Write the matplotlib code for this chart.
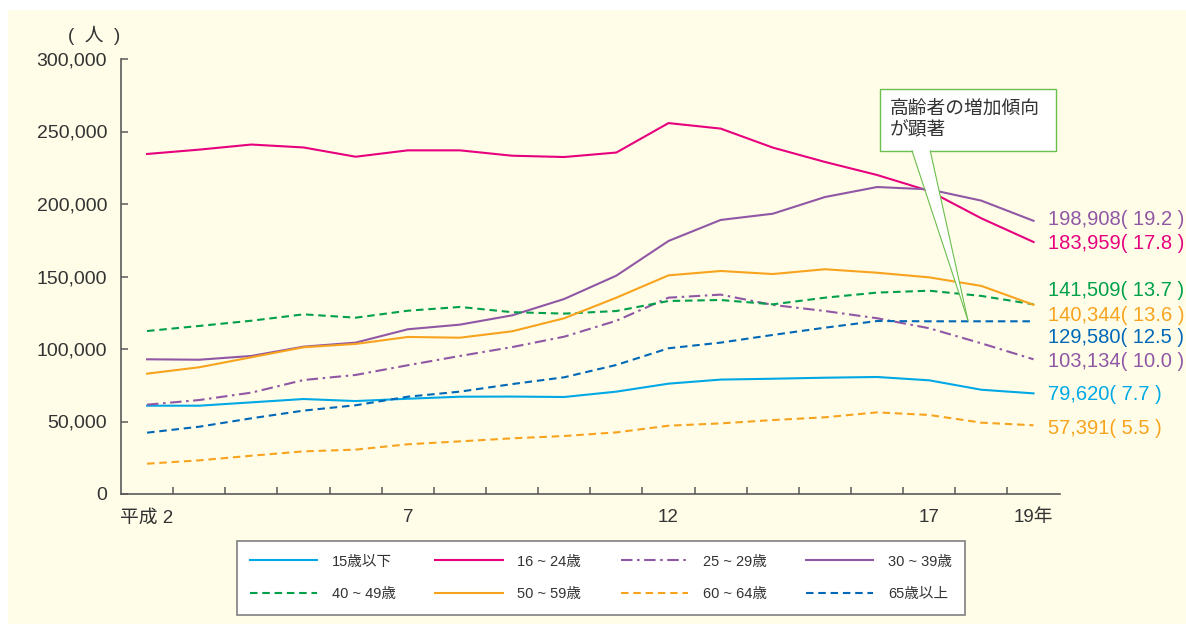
import matplotlib
matplotlib.use("Agg")

import matplotlib.pyplot as plt
from matplotlib.patches import Rectangle, Polygon

# ── data ────────────────────────────────────────────────────────────────────
years = ["平成 2", "3", "4", "5", "6", "7", "8", "9", "10", "11",
         "12", "13", "14", "15", "16", "17", "18", "19年"]
tick_label_idx = [0, 5, 10, 15, 17]
tick_labels = ["平成 2", "7", "12", "17", "19年"]

age_u15 = [60900, 60900, 63200, 65500, 64100, 65700, 67100, 67200, 66900,
           70600, 76100, 78900, 79500, 80200, 80700, 78400, 71900, 69400]
age_16_24 = [234500, 237500, 241000, 239000, 232600, 237000, 237000, 233300, 232400,
             235500, 255800, 252000, 238900, 229000, 220000, 209000, 190100, 173800]
age_25_29 = [61600, 64800, 69900, 78600, 82100, 88800, 95200, 101300, 108500,
             119500, 135400, 137500, 130400, 126200, 121200, 114300, 103900, 92900]
age_30_39 = [92900, 92600, 95200, 101600, 104400, 113600, 116800, 123200, 134500,
             150600, 174500, 189000, 193300, 204800, 211700, 210100, 202300, 188400]
age_40_49 = [112400, 115900, 119500, 123900, 121600, 126400, 129000, 125400, 124400,
             126200, 133100, 133800, 130800, 135400, 138900, 140200, 136600, 130800]
age_50_59 = [83000, 87400, 94300, 101200, 103500, 108300, 107800, 112200, 121200,
             135400, 150800, 153800, 151700, 155000, 152600, 149400, 143500, 130500]
age_60_64 = [20900, 23200, 26400, 29400, 30600, 34300, 36300, 38400, 40000,
             42500, 47100, 48700, 51000, 52900, 56300, 54500, 49200, 47400]
age_65 = [42300, 46400, 52200, 57500, 61200, 67100, 70600, 75800, 80500,
          89000, 100500, 104400, 109700, 114700, 119300, 119100, 119100, 119100]

end_labels = ["198,908( 19.2 )", "183,959( 17.8 )", "141,509( 13.7 )", "140,344( 13.6 )",
              "129,580( 12.5 )", "103,134( 10.0 )", "79,620( 7.7 )", "57,391( 5.5 )"]
end_label_y = [189000, 172800, 140000, 123400, 107600, 91700, 68300, 45500]

# ── style ───────────────────────────────────────────────────────────────────
plt.rcParams["font.family"] = ["Liberation Sans", "Noto Sans CJK JP", "DejaVu Sans"]

CREAM = "#fffde8"
TXT = "#333333"
C_CYAN = "#00a8e6"
C_PINK = "#e6007e"
C_PURPLE = "#9057a5"
C_GREEN = "#00a04a"
C_ORANGE = "#f8a31e"
C_BLUE = "#0068b7"

W, H = 1186, 624
fig = plt.figure(figsize=(W / 100, H / 100), dpi=100, facecolor="white")
fig.patches.append(Rectangle((8 / W, 0), 1 - 8 / W, 1 - 10 / H, transform=fig.transFigure,
                             facecolor=CREAM, edgecolor="none", zorder=-10))

ax = fig.add_axes([121 / W, 1 - 494 / H, (1059.6 - 121) / W, 435 / H])
ax.set_facecolor("none")

x = list(range(len(years)))
lw = 1.5
dash = (0, (3.6, 2.3))
dashdot = (0, (5.5, 2.2, 1.2, 2.2))

series = [
    (age_u15, "15歳以下", C_CYAN, "-"),
    (age_16_24, "16 ~ 24歳", C_PINK, "-"),
    (age_25_29, "25 ~ 29歳", C_PURPLE, dashdot),
    (age_30_39, "30 ~ 39歳", C_PURPLE, "-"),
    (age_40_49, "40 ~ 49歳", C_GREEN, dash),
    (age_50_59, "50 ~ 59歳", C_ORANGE, "-"),
    (age_60_64, "60 ~ 64歳", C_ORANGE, dash),
    (age_65, "65歳以上", C_BLUE, dash),
]
handles = []
for vals, lab, col, ls in series:
    ln, = ax.plot(x, vals, color=col, lw=lw, linestyle=ls, label=lab, zorder=3)
    handles.append(ln)

ax.set_xlim(-0.5, 17.5)
ax.set_ylim(0, 300000)

for s in ["top", "right"]:
    ax.spines[s].set_visible(False)
for s in ["left", "bottom"]:
    ax.spines[s].set_color("#5a5a5a")
    ax.spines[s].set_linewidth(1.2)

yticks = [0, 50000, 100000, 150000, 200000, 250000, 300000]
ax.set_yticks(yticks, [f"{v:,}" for v in yticks])
ax.tick_params(axis="y", direction="in", length=5, width=1.1, color="#5a5a5a",
               labelsize=14, labelcolor=TXT, pad=10)

ax.set_xticks([i + 0.5 for i in range(17)])
ax.set_xticklabels([])
ax.tick_params(axis="x", which="major", direction="in", length=5, width=1.1, color="#5a5a5a")
ax.set_xticks(tick_label_idx, tick_labels, minor=True)
ax.tick_params(axis="x", which="minor", length=0, labelsize=13.5, labelcolor=TXT, pad=11)

fig.text(94 / W, 1 - 35 / H, "(  人  )", ha="center", va="center", fontsize=13.5, color=TXT)

# end-of-line value labels
end_colors = [C_PURPLE, C_PINK, C_GREEN, C_ORANGE, C_BLUE, C_PURPLE, C_CYAN, C_ORANGE]
for lab, yv, col in zip(end_labels, end_label_y, end_colors):
    ax.text(17.27, yv, lab, color=col, fontsize=14.5, ha="left", va="center")

# callout box
GREEN_EDGE = "#6cbf4f"
ax.add_patch(Rectangle((14.06, 236600), 3.38, 42700, facecolor="white",
                       edgecolor=GREEN_EDGE, lw=1.0, zorder=5, clip_on=False))
ax.add_patch(Polygon([(14.68, 237400), (15.74, 120000), (15.01, 237400)], closed=True,
                     facecolor="white", edgecolor="none", zorder=6, clip_on=False))
ax.plot([14.67, 15.74], [236600, 120000], color=GREEN_EDGE, lw=0.8, zorder=7)
ax.plot([15.02, 15.74], [236600, 120000], color=GREEN_EDGE, lw=0.8, zorder=7)
ax.text(14.24, 258000, "高齢者の増加傾向\nが顕著", ha="left", va="center",
        fontsize=13.5, color=TXT, linespacing=1.35, zorder=8)

# legend (row-major order for 4 columns)
order = [0, 4, 1, 5, 2, 6, 3, 7]
leg = fig.legend([handles[i] for i in order], [series[i][1] for i in order],
                 loc="center", bbox_to_anchor=(237 / W, 1 - 613 / H, 728 / W, 70 / H),
                 mode="expand", ncol=4, fancybox=False, framealpha=1,
                 facecolor="white", edgecolor="#7f7f7f", fontsize=10.5,
                 handlelength=4.6, handletextpad=1.0, labelspacing=1.3,
                 borderpad=0.9, borderaxespad=0)
leg.get_frame().set_linewidth(1.2)
for t in leg.get_texts():
    t.set_color(TXT)

fig.savefig("out.png", dpi=100, facecolor=fig.get_facecolor())
